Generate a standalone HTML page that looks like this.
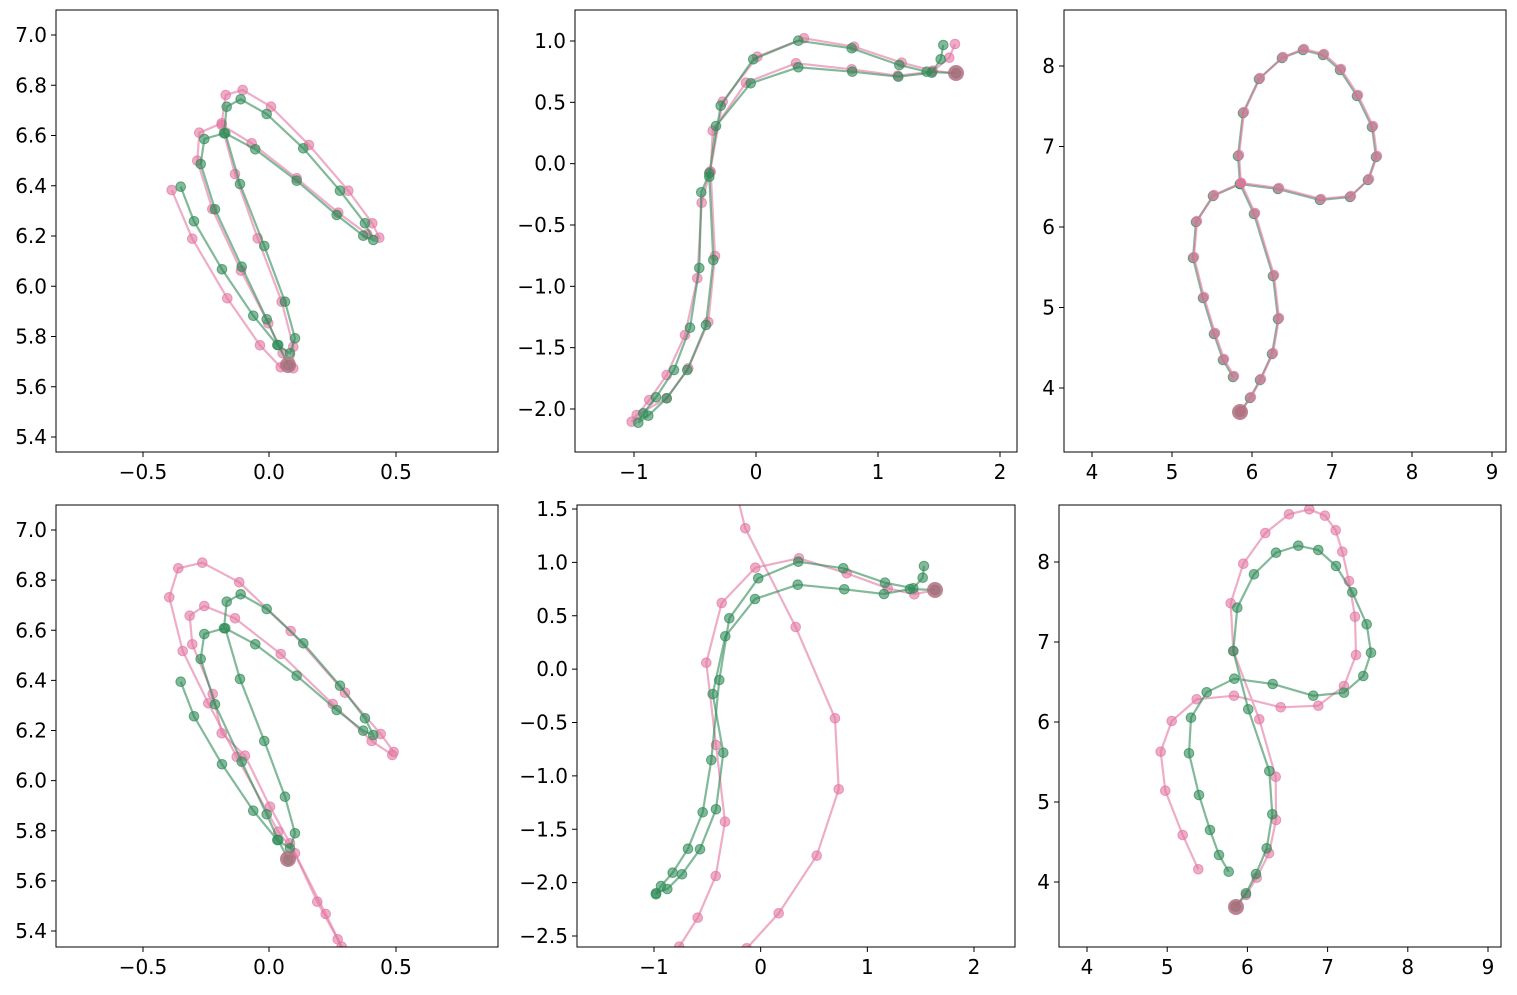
<!DOCTYPE html>
<html><head><meta charset="utf-8"><style>
html,body{margin:0;padding:0;background:#fff;}
svg text{font-family:"DejaVu Sans","Liberation Sans",sans-serif;font-size:20px;fill:#000;}
</style></head><body>
<svg id="s" width="1517" height="990" xmlns="http://www.w3.org/2000/svg"></svg>
<script>
const S=document.getElementById('s');
const NS='http://www.w3.org/2000/svg';
function el(t,a,p){const e=document.createElementNS(NS,t);for(const k in a)e.setAttribute(k,a[k]);(p||S).appendChild(e);return e;}
const G='rgb(46,139,87)',P='rgb(227,119,162)';
function panel(id,box,xt,yt,series){
  const [x0,y0,x1,y1]=box;
  const cp=el('clipPath',{id:'c'+id});el('rect',{x:x0,y:y0,width:x1-x0,height:y1-y0},cp);
  const g=el('g',{'clip-path':'url(#c'+id+')'});
  series.forEach(s=>{
    s.strands.forEach(st=>{
      el('polyline',{points:st.map(p=>p.join(',')).join(' '),fill:'none',stroke:s.c,'stroke-width':2.2,'stroke-opacity':0.6},g);
      st.forEach(p=>el('circle',{cx:p[0],cy:p[1],r:4.8,fill:s.c,'fill-opacity':0.6,stroke:s.c,'stroke-opacity':0.7,'stroke-width':1},g));
    });
  });
  el('circle',{cx:series.bx,cy:series.by,r:8,fill:'rgb(176,110,128)','fill-opacity':0.85},g);
  el('rect',{x:x0,y:y0,width:x1-x0,height:y1-y0,fill:'none',stroke:'#000','stroke-width':1});
  xt.forEach(([v,l])=>{el('line',{x1:v,x2:v,y1:y1,y2:y1+5,stroke:'#000'});const t=el('text',{x:v,y:y1+27,'text-anchor':'middle'});t.textContent=l;});
  yt.forEach(([v,l])=>{el('line',{x1:x0-5,x2:x0,y1:v,y2:v,stroke:'#000'});const t=el('text',{x:x0-9,y:v+7,'text-anchor':'end'});t.textContent=l;});
}
function lin(a,b,labels){return labels.map((l,i)=>[a+(b-a)*i/(labels.length-1),l]);}
const m='\u2212';
const y1lab=['7.0','6.8','6.6','6.4','6.2','6.0','5.8','5.6','5.4'];
const g1=[[180.7,186.7],[194,221.3],[222,269.3],[253.3,315.7],[277.3,345],[290,353.3],[295,338.3],[285,301.7],[264.3,246],[240,184],[225.3,133.3],[255.3,149.3],[296.7,180.7],[336.7,215],[363.3,235.7],[373.3,240],[365,223.3],[340,190.7],[303.3,148.3],[266.7,114],[240.7,99.3],[226.7,106.7],[224,133.3],[204.3,139],[200.7,164],[215,209.3],[241.7,266.7],[266.7,319.3],[278.3,345],[288.3,365]];
const p1=[[171.7,190],[192.3,238.7],[227.3,298.3],[260,345.3],[280.7,367.3],[293.3,368.3],[293.3,346.7],[281.7,301.7],[257.7,238.3],[235,174],[221.7,125],[251.7,143.3],[296.7,178.3],[338.3,212.7],[367.3,234.3],[379.3,237.7],[372.3,223.3],[348.3,190.7],[309,145],[271,106.7],[242.7,90],[225.7,95],[221.7,123.3],[199.3,132.7],[197.3,160.7],[212.3,209],[241,270.7],[268.3,323.3],[282.7,353.3]];
let s1=[{c:P,strands:[p1]},{c:G,strands:[g1]}];s1.bx=288;s1.by=365;
panel(1,[56,10,498,452],[[143,m+'0.5'],[269,'0.0'],[396,'0.5']],lin(35,437,y1lab),s1);
const g2a=[[943.3,45],[940.7,59.3],[931.7,72.7],[898.3,76.7],[852.3,71.7],[798.3,67.3],[750.7,83.3],[716,126],[709.3,176.7],[713.3,260],[706,325],[687.3,370],[666.7,398.3],[648.3,415.7],[638.3,422.7],[643.3,413.3],[656,397.3],[674,370],[690,327.7],[699.3,268],[701.3,192.3],[709.3,173.3],[720.7,105.7],[753.3,59.3],[798.3,40.7],[851.7,48.3],[899.3,65],[926.7,71.7],[956,73.3]];
const p2a=[[955,44],[949.3,57.7],[932.3,71.7],[897.7,75.7],[851.7,69.3],[796,63.3],[746,82.7],[712.7,130.7],[710.7,171.7],[715,256],[708.3,322],[688.3,368.3],[666.7,398.3],[636.7,415],[631.7,421.7],[649.3,400],[666.7,375],[685,335],[697.3,278.3],[701.7,202.7],[710,171.7],[722.7,101.7],[757.3,56.7],[804,38.3],[854,46.7],[901.7,62.7],[932.7,70.7],[956,73.3]];
let s2=[{c:P,strands:[p2a]},{c:G,strands:[g2a]}];s2.bx=956;s2.by=73;
panel(2,[575,10,1017,452],lin(634,1000,[m+'1','0','1','2']),lin(41,409,['1.0','0.5','0.0',m+'0.5',m+'1.0',m+'1.5',m+'2.0']),s2);
const t3=[[1240,412],[1250,398],[1260,380],[1272,354],[1278,319],[1273,276],[1254,214],[1240,184],[1278,189],[1320,200],[1350,197],[1368,180],[1376,157],[1372,127],[1357,96],[1340,70],[1323,55],[1303,50],[1282,58],[1259,79],[1243,113],[1238,156],[1240,184],[1213,196],[1196,222],[1193,258],[1203,298],[1214,334],[1223,360],[1233,377]];
const t3p=t3.map(p=>[p[0]+1,p[1]-1]);
let s3=[{c:G,strands:[t3]},{c:P,strands:[t3p]}];s3.bx=1240;s3.by=412;
panel(3,[1064,10,1506,452],lin(1092,1492,['4','5','6','7','8','9']),lin(66,388,['8','7','6','5','4']),s3);
const g4=g1.map(p=>[p[0],p[1]+495]);
const p4a=[[392.3,755],[371.7,741],[332.7,704],[280.7,654],[235,618.3],[204.3,606],[189.7,615.7],[192.3,644.3],[212.7,694],[221.7,733.3],[245,755.7],[270,806.7],[290,843.3],[317.3,901.7],[337.7,939.3],[346.7,960]];
const p4b=[[393.7,752],[380.7,734],[345,692.7],[290.7,631],[239.3,582.3],[202.3,562.7],[178.3,568.3],[169.3,597.3],[182.7,651],[208.3,703.3],[236.7,756.7],[278.3,831.7],[295,853.3],[325.7,914],[341.7,946.7],[348.3,960]];
let s4=[{c:P,strands:[p4a,p4b]},{c:G,strands:[g4]}];s4.bx=288;s4.by=859;
panel(4,[56,505,498,947],[[143,m+'0.5'],[269,'0.0'],[396,'0.5']],lin(530,931,y1lab),s4);
const g5a=[[924,566],[922.7,577.7],[913.3,588.3],[885,582.7],[843.3,568.3],[798.3,561.7],[758.3,578.3],[729.3,618.3],[719.3,680],[711.3,760],[702.7,812.3],[688,848.7],[672.7,872.7],[661,886],[656,894.3]];
const g5b=[[656,893.3],[667.3,889],[682,874.3],[700,849.3],[716,809.3],[723.3,752.7],[712.7,694],[725.3,636.3],[755,599],[797.7,584.7],[844.3,589.3],[884,594],[910,589],[935,590]];
const p5a=[[737,495],[745.3,528.3],[795.7,627],[835,718.3],[838.7,789.3],[816.7,855.7],[778.7,913.3],[746.7,948.3],[735,960]];
const p5b=[[672,960],[679.3,946.7],[697.7,917.7],[715.7,876],[725,821.7],[716,745],[706.3,662.7],[721.7,603],[755.3,567.7],[799,558.3],[846.7,573.3],[887.7,588.3],[914.3,594.3],[935,590]];
let s5=[{c:P,strands:[p5a,p5b]},{c:G,strands:[g5a,g5b]}];s5.bx=935;s5.by=590;
panel(5,[577,505,1015,947],lin(654,974,[m+'1','0','1','2']),lin(509,936,['1.5','1.0','0.5','0.0',m+'0.5',m+'1.0',m+'1.5',m+'2.0',m+'2.5']),s5);
const g6=[[1235.7,906.7],[1246,893.3],[1256,874],[1266.7,848.3],[1272.3,814.3],[1269.3,771],[1248.3,709.3],[1233.3,651],[1237.3,607.7],[1254,574.3],[1276,552.7],[1298.3,545.7],[1318.3,550],[1336,566],[1352.3,592.3],[1366.7,624.3],[1371,652.7],[1363.3,676],[1344,692.7],[1313.3,695.7],[1272.7,684],[1234.3,678.7],[1206.7,692.3],[1191,717.7],[1189,753.3],[1199,795],[1210,830],[1219,855],[1228.7,871.7]];
const p6=[[1235.7,906.7],[1246,895],[1256.7,877.7],[1269,853.3],[1276,820],[1275.7,776.7],[1259.3,719.3],[1233.3,651],[1230.7,603.3],[1243.3,563.7],[1265.3,533],[1289,514.3],[1309.3,509.3],[1325,515.7],[1335.7,530.3],[1342.3,551.7],[1349,581],[1355,616.7],[1356,655],[1344,686],[1318.3,705.7],[1280.7,707.3],[1234,695.7],[1196.7,699.3],[1171.7,721],[1160.7,751.7],[1165.3,790.7],[1182.7,835],[1198.3,869.3]];
let s6=[{c:P,strands:[p6]},{c:G,strands:[g6]}];s6.bx=1236;s6.by=907;
panel(6,[1059,505,1501,947],lin(1087,1488,['4','5','6','7','8','9']),lin(562,882,['8','7','6','5','4']),s6);
</script>
</body></html>
